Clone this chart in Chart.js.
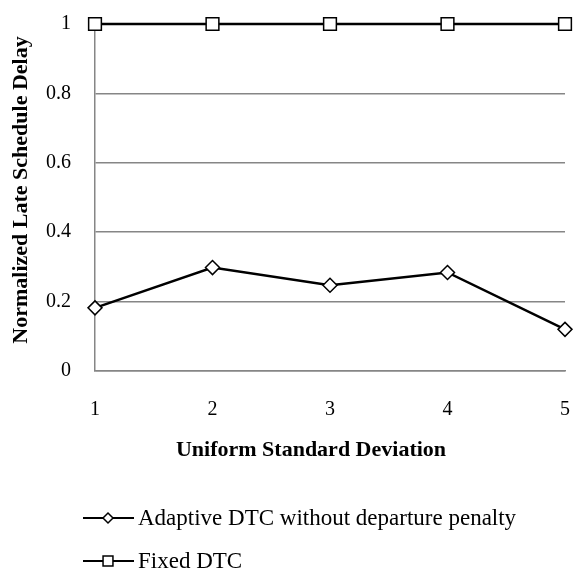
<!DOCTYPE html>
<html>
<head>
<meta charset="utf-8">
<script src="https://cdn.jsdelivr.net/npm/chart.js@4/dist/chart.umd.min.js"></script>
<style>
  html, body { margin: 0; padding: 0; background: #ffffff; }
  #wrap { width: 578px; height: 574px; position: relative; }
</style>
</head>
<body>
<div id="wrap"><canvas id="c" width="578" height="574"></canvas></div>
<script>
// Uniform standard deviation levels on the x axis
const categories = ['1', '2', '3', '4', '5'];
// Normalized late schedule delay per series
const adaptiveValues = [0.182, 0.298, 0.247, 0.284, 0.12];
const fixedValues = [1, 1, 1, 1, 1];
const seriesNames = ['Adaptive DTC without departure penalty', 'Fixed DTC'];
const yTicks = [0, 0.2, 0.4, 0.6, 0.8, 1];
const xTitle = 'Uniform Standard Deviation';
const yTitle = 'Normalized Late Schedule Delay';

const SERIF = '"Liberation Serif", "DejaVu Serif", serif';
const GRID = '#868686';
const TITLE_FONT = 'bold 22px ' + SERIF;

// Axis titles are placed relative to the whole chart rather than the plot box;
// the scales keep an invisible title so that their space is still reserved.
const axisTitles = {
  id: 'axisTitles',
  afterDraw(chart) {
    const ctx = chart.ctx;
    ctx.save();
    ctx.fillStyle = '#000000';
    ctx.font = TITLE_FONT;
    ctx.textAlign = 'center';
    ctx.textBaseline = 'middle';
    ctx.fillText(xTitle, 311, 450);
    ctx.translate(21, 190);
    ctx.rotate(-Math.PI / 2);
    ctx.fillText(yTitle, 0, 0);
    ctx.restore();
  }
};

// Legend drawn as stacked rows below the axis title
const stackedLegend = {
  id: 'stackedLegend',
  afterDraw(chart) {
    const ctx = chart.ctx;
    const rows = [518, 561];
    const x0 = 83, x1 = 134, xm = 108, tx = 138;
    chart.data.datasets.forEach((ds, i) => {
      const y = rows[i];
      ctx.save();
      ctx.strokeStyle = ds.borderColor;
      ctx.lineWidth = 2;
      ctx.beginPath();
      ctx.moveTo(x0, y);
      ctx.lineTo(x1, y);
      ctx.stroke();
      ctx.fillStyle = '#ffffff';
      ctx.strokeStyle = '#000000';
      ctx.lineWidth = 1.5;
      Chart.helpers.drawPoint(ctx, {
        pointStyle: ds.pointStyle,
        radius: ds.pointStyle === 'rect' ? 7 : 5,
        rotation: 0,
        borderWidth: 1.5
      }, xm, y);
      ctx.fillStyle = '#000000';
      ctx.font = '23px ' + SERIF;
      ctx.textAlign = 'left';
      ctx.textBaseline = 'middle';
      ctx.fillText(ds.label, tx, y + 1);
      ctx.restore();
    });
  }
};

new Chart(document.getElementById('c'), {
  type: 'line',
  data: {
    labels: categories,
    datasets: [
      {
        label: seriesNames[0],
        data: adaptiveValues,
        borderColor: '#000000',
        borderWidth: 2.5,
        pointStyle: 'rectRot',
        pointRadius: 7,
        pointBackgroundColor: '#ffffff',
        pointBorderColor: '#000000',
        pointBorderWidth: 1.5,
        tension: 0,
        clip: false
      },
      {
        label: seriesNames[1],
        data: fixedValues,
        borderColor: '#000000',
        borderWidth: 2.5,
        pointStyle: 'rect',
        pointRadius: 9,
        pointBackgroundColor: '#ffffff',
        pointBorderColor: '#000000',
        pointBorderWidth: 1.5,
        tension: 0,
        clip: false
      }
    ]
  },
  options: {
    responsive: false,
    animation: false,
    layout: { padding: { top: 24, right: 13, bottom: 110.6, left: 9 } },
    plugins: {
      legend: { display: false },
      tooltip: { enabled: false }
    },
    scales: {
      x: {
        type: 'category',
        offset: false,
        grid: { display: false, drawTicks: true, tickLength: 27, tickColor: 'rgba(0,0,0,0)' },
        border: { display: true, color: GRID, width: 1.5 },
        ticks: {
          padding: 0,
          color: '#000000',
          font: { family: SERIF, size: 20 }
        },
        title: {
          display: true,
          text: xTitle,
          color: 'rgba(0,0,0,0)',
          font: { family: SERIF, size: 22, weight: 'bold' },
          padding: { top: 15, bottom: 0 }
        }
      },
      y: {
        min: 0,
        max: 1,
        afterBuildTicks(scale) {
          scale.ticks = yTicks.map(v => ({ value: v }));
        },
        afterFit(scale) { scale.width = 86; },
        grid: { color: GRID, lineWidth: 1.5, drawTicks: true, tickLength: 24, tickColor: 'rgba(0,0,0,0)' },
        border: { display: true, color: GRID, width: 1.5 },
        ticks: {
          padding: 0,
          color: '#000000',
          font: { family: SERIF, size: 20 },
          callback: v => String(v)
        },
        title: {
          display: true,
          text: yTitle,
          color: 'rgba(0,0,0,0)',
          font: { family: SERIF, size: 22, weight: 'bold' },
          padding: { top: 0, bottom: 0 }
        }
      }
    }
  },
  plugins: [axisTitles, stackedLegend]
});
</script>
</body>
</html>
